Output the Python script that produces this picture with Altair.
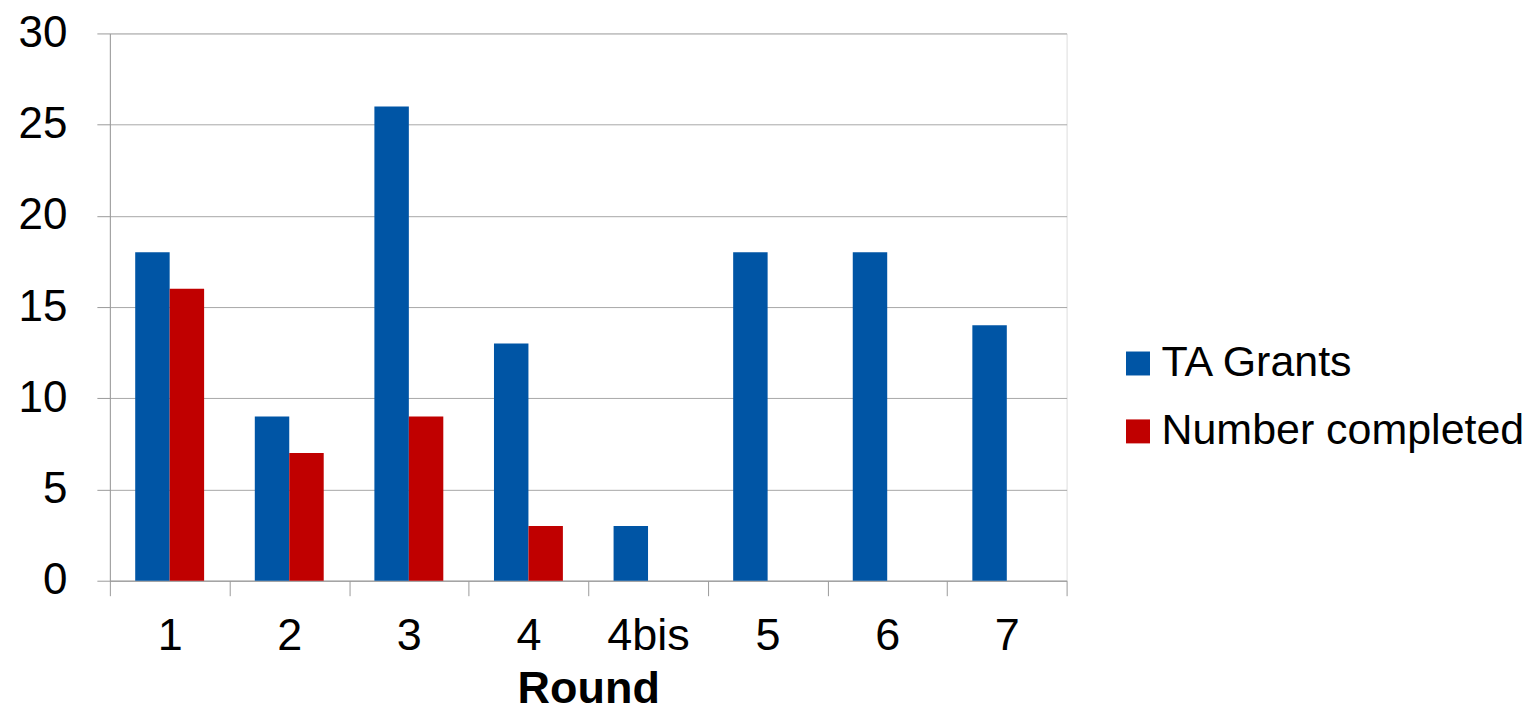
import altair as alt
import pandas as pd

rounds = ["1", "2", "3", "4", "4bis", "5", "6", "7"]
ta_grants = [18, 9, 26, 13, 3, 18, 18, 14]
completed = [16, 7, 9, 3, None, None, None, None]
series = ["TA Grants", "Number completed"]
colors = ["#0055A5", "#C00000"]

rows = []
for r, a, b in zip(rounds, ta_grants, completed):
    rows.append({"Round": r, "Series": series[0], "Value": a})
    if b is not None:
        rows.append({"Round": r, "Series": series[1], "Value": b})
df = pd.DataFrame(rows)

FONT = "Liberation Sans"

chart = alt.Chart(df).mark_bar().encode(
    x=alt.X("Round:N", sort=rounds,
            scale=alt.Scale(domain=rounds, paddingInner=0, paddingOuter=0),
            axis=alt.Axis(title="Round", labelAngle=0, tickBand="extent",
                          ticks=True, tickSize=15, tickColor="#9a9a9a",
                          domainColor="#9a9a9a", grid=False,
                          labelFontSize=45, labelPadding=18, labelColor="#000",
                          labelFont=FONT, titleFont=FONT, titleFontSize=45,
                          titleFontWeight="bold", titleColor="#000",
                          titlePadding=8)),
    xOffset=alt.XOffset("Series:N", sort=series,
                        scale=alt.Scale(domain=series, paddingInner=0, paddingOuter=0.7355)),
    y=alt.Y("Value:Q", scale=alt.Scale(domain=[0, 30], nice=False),
            axis=alt.Axis(title=None, values=[0, 5, 10, 15, 20, 25, 30],
                          tickSize=13, tickColor="#9a9a9a", domainColor="#9a9a9a",
                          gridColor="#a8a8a8", grid=True, labelFontSize=44,
                          labelPadding=30, labelColor="#000", labelFont=FONT)),
    color=alt.Color("Series:N", sort=series,
                    scale=alt.Scale(domain=series, range=colors),
                    legend=alt.Legend(title=None, orient="none", legendX=1008,
                                      legendY=309, symbolType="square",
                                      symbolSize=576, symbolStrokeWidth=0,
                                      labelFontSize=43, labelFont=FONT,
                                      labelColor="#000", labelLimit=600,
                                      rowPadding=24, labelOffset=2)),
).properties(
    width=958, height=548,
    padding={"left": 10, "top": 3, "right": 0, "bottom": 0},
).configure_view(stroke=None).configure(background="white")

chart.save("out.html", embed_options={"renderer": "svg", "actions": False})
